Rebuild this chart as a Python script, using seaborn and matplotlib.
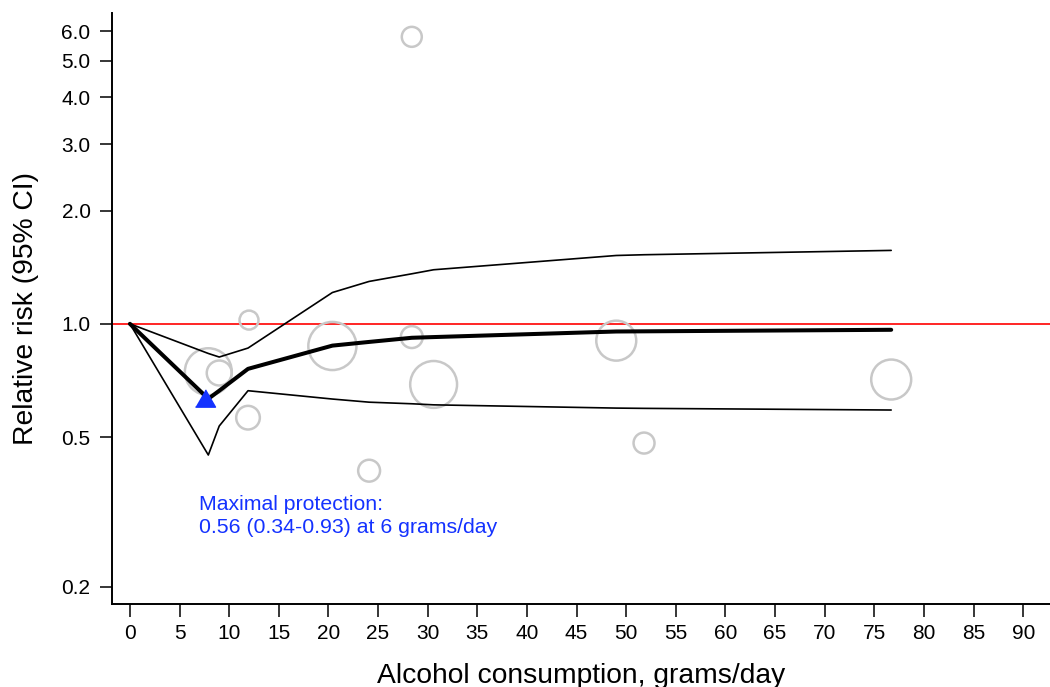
import matplotlib
matplotlib.use("Agg")
import matplotlib.pyplot as plt
import numpy as np
import pandas as pd
import seaborn as sns

# Pooled dose-response curve (relative risk) with 95% confidence band
dose = [0.0, 7.9, 9.0, 11.9, 20.4, 24.1, 28.4, 30.6, 49.0, 51.8, 76.7]
rr = [1.0, 0.632, 0.664, 0.759, 0.875, 0.895, 0.918, 0.922, 0.954, 0.955, 0.964]
rr_upper = [1.0, 0.834, 0.816, 0.862, 1.211, 1.296, 1.358, 1.392, 1.519, 1.526, 1.567]
rr_lower = [1.0, 0.448, 0.535, 0.664, 0.631, 0.619, 0.613, 0.609, 0.597, 0.596, 0.590]

# Individual study estimates, circle area proportional to study weight
study_dose = [12.0, 7.9, 9.0, 11.9, 20.4, 28.4, 30.6, 24.1, 28.4, 49.0, 51.8, 76.7]
study_rr = [1.023, 0.746, 0.740, 0.563, 0.873, 0.922, 0.690, 0.407, 5.79, 0.902, 0.482, 0.711]
study_weight = [0.9, 5.5, 1.56, 1.4, 5.8, 1.2, 5.5, 1.2, 1.0, 4.0, 1.1, 4.0]

# Nadir of the curve
nadir_dose = [7.6]
nadir_rr = [0.634]
nadir_text = "Maximal protection:\n0.56 (0.34-0.93) at 6 grams/day"

x_ticks = list(range(0, 95, 5))
y_ticks = [0.2, 0.5, 1.0, 2.0, 3.0, 4.0, 5.0, 6.0]
y_tick_labels = ["0.2", "0.5", "1.0", "2.0", "3.0", "4.0", "5.0", "6.0"]

curve = pd.DataFrame({"dose": dose, "rr": rr, "upper": rr_upper, "lower": rr_lower})
studies = pd.DataFrame({"dose": study_dose, "rr": study_rr, "weight": study_weight})

sns.set_style("ticks")
plt.rcParams["font.family"] = ["Liberation Sans", "DejaVu Sans"]
plt.rcParams["text.color"] = "black"
plt.rcParams["axes.labelcolor"] = "black"

fig = plt.figure(figsize=(10.5, 6.87), dpi=100)
ax = fig.add_axes([0.1067, 0.1208, 0.8933, 0.8603])
ax.set_yscale("log")

ax.axhline(1.0, color="#ff0000", lw=1.2, zorder=1)

sns.scatterplot(data=studies, x="dose", y="rr", size="weight",
                sizes=(0, 2070), size_norm=(0, 10), color="#c8c8c8",
                facecolor="none", edgecolor="#c8c8c8", linewidth=1.8,
                legend=False, ax=ax, zorder=2)

sns.lineplot(data=curve, x="dose", y="upper", estimator=None, sort=False,
             color="black", lw=1.2, ax=ax, zorder=3)
sns.lineplot(data=curve, x="dose", y="lower", estimator=None, sort=False,
             color="black", lw=1.2, ax=ax, zorder=3)
sns.lineplot(data=curve, x="dose", y="rr", estimator=None, sort=False,
             color="black", lw=2.9, ax=ax, zorder=4)

tri = [(-1.0, -0.866), (1.0, -0.866), (0.0, 0.866)]
ax.plot(nadir_dose, nadir_rr, linestyle="none", marker=tri, markersize=14.4,
        color="#1432ff", zorder=5)

ax.text(7.0, 0.271, nadir_text, color="#1432ff", fontsize=15.3,
        ha="left", va="bottom", linespacing=1.25)

ax.set_xlim(-1.8, 92.7)
ax.set_ylim(0.18, 6.7)
ax.set_xticks(x_ticks)
ax.set_yticks(y_ticks)
ax.set_yticklabels(y_tick_labels)
ax.yaxis.set_minor_locator(matplotlib.ticker.NullLocator())

ax.set_xlabel("Alcohol consumption, grams/day", fontsize=20.3, labelpad=14)
ax.set_ylabel("Relative risk (95% CI)", fontsize=20.3, labelpad=16)

for side in ("top", "right"):
    ax.spines[side].set_visible(False)
for side in ("left", "bottom"):
    ax.spines[side].set_linewidth(1.4)
    ax.spines[side].set_color("black")
ax.tick_params(axis="both", direction="out", length=9, width=1.1,
               color="black", labelsize=15, labelcolor="black")
ax.tick_params(axis="y", pad=6.5)
ax.tick_params(axis="x", pad=5.5)
ax.grid(False)

fig.savefig("out.png", dpi=100, facecolor="white")
